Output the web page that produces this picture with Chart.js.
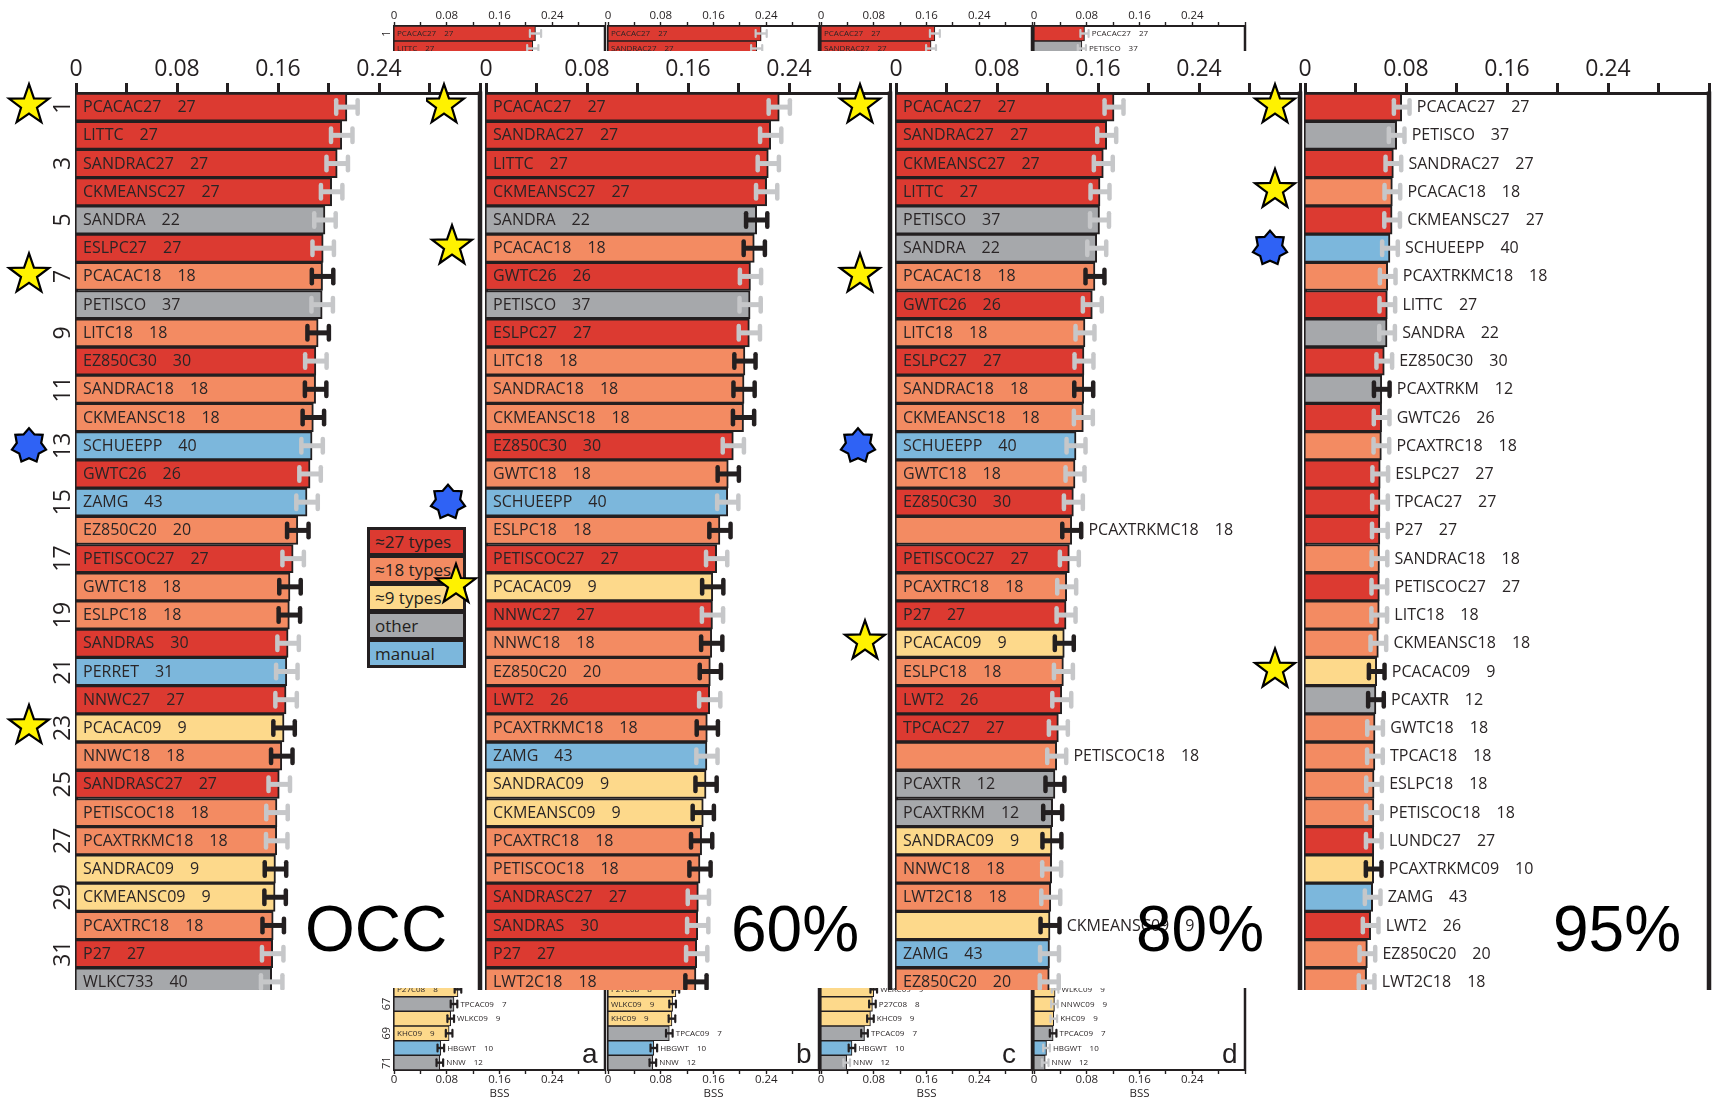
<!DOCTYPE html>
<html>
<head>
<meta charset="utf-8">
<script src="https://cdn.jsdelivr.net/npm/chart.js@4.4.1/dist/chart.umd.min.js"></script>
<style>
    html, body { margin: 0; padding: 0; background: #fff; width: 1712px; height: 1101px; overflow: hidden; }
    canvas { position: absolute; }
    #bottom-inset { position: absolute; left: 0; top: 988px; width: 1712px; height: 113px; overflow: hidden; }
    #main { position: absolute; left: 0; top: 0; width: 1712px; height: 990px; overflow: hidden; }
    #top-inset { position: absolute; left: 0; top: 0; width: 1712px; height: 51px; overflow: hidden; }
    #legend { position: absolute; left: 367px; top: 527px; width: 93px; padding: 3px; background: #231f20; }
    #legend div { height: 23px; line-height: 23px; margin-bottom: 5px; padding-left: 5px; font: 17px 'Open Sans', sans-serif; color: #231f20; white-space: nowrap; }
    #legend div:last-child { margin-bottom: 0; }
    .big { position: absolute; top: 897px; font: 64px 'Liberation Sans', Arial, sans-serif; line-height: 1; color: #000; }
    .letter { position: absolute; top: 1040px; font: 28px 'Liberation Sans', Arial, sans-serif; line-height: 1; color: #231f20; }
</style>
</head>
<body>
<div id="bottom-inset"></div>
<div id="legend"></div>
<div id="main"></div>
<div id="top-inset"></div>
<div id="titles"></div>

<script>
// ---------- data ----------
const methodNames = ['PCACAC27', 'LITTC', 'SANDRAC27', 'CKMEANSC27', 'SANDRA', 'ESLPC27', 'PCACAC18', 'PETISCO',
    'LITC18', 'EZ850C30', 'SANDRAC18', 'CKMEANSC18', 'SCHUEEPP', 'GWTC26', 'ZAMG', 'EZ850C20', 'PETISCOC27',
    'GWTC18', 'ESLPC18', 'SANDRAS', 'PERRET', 'NNWC27', 'PCACAC09', 'NNWC18', 'SANDRASC27', 'PETISCOC18',
    'PCAXTRKMC18', 'SANDRAC09', 'CKMEANSC09', 'PCAXTRC18', 'P27', 'WLKC733', 'LWT2', 'LWT2C18', 'PCAXTR',
    'PCAXTRKM', 'TPCAC27', 'TPCAC18', 'LUNDC27', 'PCAXTRKMC09', 'TPCAC09', 'WLKC09', 'KHC09', 'HBGWT', 'NNW',
    'P27C08', 'NNWC09'];
const methodTypes = [27, 27, 27, 27, 22, 27, 18, 37, 18, 30, 18, 18, 40, 26, 43, 20, 27, 18, 18, 30, 31, 27, 9, 18,
    27, 18, 18, 9, 9, 18, 27, 40, 26, 18, 12, 12, 27, 18, 27, 10, 7, 9, 9, 10, 12, 8, 9];
// r = ~27 types, o = ~18 types, y = ~9 types, g = other, b = manual
const methodGroups = ['r', 'r', 'r', 'r', 'g', 'r', 'o', 'g', 'o', 'r', 'o', 'o', 'b', 'r', 'b', 'o', 'r', 'o', 'o',
    'r', 'b', 'r', 'y', 'o', 'r', 'o', 'o', 'y', 'y', 'o', 'r', 'g', 'r', 'o', 'g', 'g', 'r', 'o', 'r', 'y', 'g',
    'y', 'y', 'b', 'g', 'y', 'y'];

const mainRows = ['1', '2', '3', '4', '5', '6', '7', '8', '9', '10', '11', '12', '13', '14', '15', '16', '17', '18',
    '19', '20', '21', '22', '23', '24', '25', '26', '27', '28', '29', '30', '31', '32'];
const xTicks = ['0', '', '0.08', '', '0.16', '', '0.24', '', ''];

// OCC
const occNames = ['PCACAC27', 'LITTC', 'SANDRAC27', 'CKMEANSC27', 'SANDRA', 'ESLPC27', 'PCACAC18', 'PETISCO',
    'LITC18', 'EZ850C30', 'SANDRAC18', 'CKMEANSC18', 'SCHUEEPP', 'GWTC26', 'ZAMG', 'EZ850C20', 'PETISCOC27',
    'GWTC18', 'ESLPC18', 'SANDRAS', 'PERRET', 'NNWC27', 'PCACAC09', 'NNWC18', 'SANDRASC27', 'PETISCOC18',
    'PCAXTRKMC18', 'SANDRAC09', 'CKMEANSC09', 'PCAXTRC18', 'P27', 'WLKC733'];
const occValues = [0.2146, 0.2105, 0.2069, 0.2025, 0.1972, 0.1958, 0.1953, 0.1950, 0.1918, 0.1900, 0.1898, 0.1880,
    0.1870, 0.1854, 0.1830, 0.1757, 0.1720, 0.1695, 0.1690, 0.1680, 0.1670, 0.1664, 0.1648, 0.1630, 0.1610,
    0.1592, 0.1590, 0.1580, 0.1577, 0.1562, 0.1558, 0.1550];
const occBlack = [7, 9, 11, 12, 16, 18, 19, 23, 24, 28, 29, 30];
const occOutside = [];
const occYellow = [1, 7, 23];
const occBlue = [13];
const occErr = 0.0085;

// 60%
const p60Names = ['PCACAC27', 'SANDRAC27', 'LITTC', 'CKMEANSC27', 'SANDRA', 'PCACAC18', 'GWTC26', 'PETISCO',
    'ESLPC27', 'LITC18', 'SANDRAC18', 'CKMEANSC18', 'EZ850C30', 'GWTC18', 'SCHUEEPP', 'ESLPC18', 'PETISCOC27',
    'PCACAC09', 'NNWC27', 'NNWC18', 'EZ850C20', 'LWT2', 'PCAXTRKMC18', 'ZAMG', 'SANDRAC09', 'CKMEANSC09',
    'PCAXTRC18', 'PETISCOC18', 'SANDRASC27', 'SANDRAS', 'P27', 'LWT2C18'];
const p60Values = [0.2323, 0.2255, 0.2236, 0.2223, 0.2144, 0.2125, 0.2095, 0.2092, 0.2086, 0.2051, 0.2044, 0.2040,
    0.1959, 0.1919, 0.1915, 0.1853, 0.1827, 0.1796, 0.1794, 0.1788, 0.1777, 0.1772, 0.1753, 0.1750, 0.1743,
    0.1721, 0.1708, 0.1695, 0.1682, 0.1677, 0.1669, 0.1663];
const p60Black = [5, 6, 10, 11, 12, 14, 16, 18, 20, 21, 23, 25, 26, 27, 28, 32];
const p60Outside = [];
const p60Yellow = [1, 6, 18];
const p60Blue = [15];
const p60Err = 0.0084;

// 80%
const p80Names = ['PCACAC27', 'SANDRAC27', 'CKMEANSC27', 'LITTC', 'PETISCO', 'SANDRA', 'PCACAC18', 'GWTC26',
    'LITC18', 'ESLPC27', 'SANDRAC18', 'CKMEANSC18', 'SCHUEEPP', 'GWTC18', 'EZ850C30', 'PCAXTRKMC18',
    'PETISCOC27', 'PCAXTRC18', 'P27', 'PCACAC09', 'ESLPC18', 'LWT2', 'TPCAC27', 'PETISCOC18', 'PCAXTR',
    'PCAXTRKM', 'SANDRAC09', 'NNWC18', 'LWT2C18', 'CKMEANSC09', 'ZAMG', 'EZ850C20'];
const p80Values = [0.1727, 0.1669, 0.1642, 0.1616, 0.1612, 0.1590, 0.1576, 0.1555, 0.1497, 0.1489, 0.1487, 0.1484,
    0.1426, 0.1418, 0.1405, 0.1392, 0.1373, 0.1352, 0.1347, 0.1333, 0.1326, 0.1313, 0.1286, 0.1273, 0.1259,
    0.1241, 0.1235, 0.1233, 0.1226, 0.1220, 0.1216, 0.1214];
const p80Black = [7, 11, 16, 20, 25, 26, 27, 30];
const p80Outside = [16, 24, 30];
const p80Yellow = [1, 7, 20];
const p80Blue = [13];
const p80Err = 0.0075;

// 95%
const p95Names = ['PCACAC27', 'PETISCO', 'SANDRAC27', 'PCACAC18', 'CKMEANSC27', 'SCHUEEPP', 'PCAXTRKMC18', 'LITTC',
    'SANDRA', 'EZ850C30', 'PCAXTRKM', 'GWTC26', 'PCAXTRC18', 'ESLPC27', 'TPCAC27', 'P27', 'SANDRAC18',
    'PETISCOC27', 'LITC18', 'CKMEANSC18', 'PCACAC09', 'PCAXTR', 'GWTC18', 'TPCAC18', 'ESLPC18', 'PETISCOC18',
    'LUNDC27', 'PCAXTRKMC09', 'ZAMG', 'LWT2', 'EZ850C20', 'LWT2C18'];
const p95Values = [0.0766, 0.0726, 0.0700, 0.0692, 0.0690, 0.0673, 0.0655, 0.0652, 0.0650, 0.0628, 0.0608, 0.0607,
    0.0605, 0.0596, 0.0594, 0.0593, 0.0590, 0.0589, 0.0588, 0.0581, 0.0568, 0.0562, 0.0555, 0.0554, 0.0547,
    0.0546, 0.0545, 0.0544, 0.0536, 0.0520, 0.0494, 0.0488];
const p95Black = [11, 21, 22, 28];
const p95Outside = mainRows.map(Number);
const p95Yellow = [1, 4, 21];
const p95Blue = [6];
const p95Err = 0.0062;

// bottom inset (rows 66-71)
const bottomRows = ['66', '67', '68', '69', '70', '71'];
const botANames = ['P27C08', 'TPCAC09', 'WLKC09', 'KHC09', 'HBGWT', 'NNW'];
const botAValues = [0.097, 0.091, 0.086, 0.0836, 0.071, 0.0695];
const botABlack = [66, 67, 68, 69, 70, 71];
const botAOutside = [67, 68, 70, 71];
const botBNames = ['P27C08', 'WLKC09', 'KHC09', 'TPCAC09', 'HBGWT', 'NNW'];
const botBValues = [0.103, 0.098, 0.097, 0.093, 0.0695, 0.068];
const botBBlack = [66, 67, 68, 69, 70, 71];
const botBOutside = [69, 70, 71];
const botCNames = ['WLKC09', 'P27C08', 'KHC09', 'TPCAC09', 'HBGWT', 'NNW'];
const botCValues = [0.080, 0.078, 0.075, 0.066, 0.047, 0.039];
const botCBlack = [66, 67, 68, 69, 70];
const botCOutside = [66, 67, 68, 69, 70, 71];
const botDNames = ['WLKC09', 'NNWC09', 'KHC09', 'TPCAC09', 'HBGWT', 'NNW'];
const botDValues = [0.032, 0.031, 0.030, 0.029, 0.019, 0.017];
const botDBlack = [69];
const botDOutside = [66, 67, 68, 69, 70, 71];
const botErr = 0.005;

const legendLabels = ['≈27 types', '≈18 types', '≈9 types', 'other', 'manual'];
const legendGroups = ['r', 'o', 'y', 'g', 'b'];
const panelTitles = ['OCC', '60%', '80%', '95%'];
const panelLetters = ['a', 'b', 'c', 'd'];

// ---------- styles / placement ----------
const FONT = "'Open Sans', 'Noto Sans', sans-serif";
const DARK = '#231f20';
const TEXT = '#2a2526';
const ERR_GRAY = '#c6c7c9';
const FILL = { r: '#dc3a31', o: '#f38b62', y: '#fdd98b', g: '#a6a8ab', b: '#7cb7dc' };

const BIG = { tickFont: 23, tickPad: 0, tickLen: 10, tickW: 3, axisW: 3, borderW: 2, labelFont: 16, numGap: 16,
    labelPad: 7, outGap: 5, errLine: 5, capW: 4.5, capH: 18, frameW: 4.5, rowFont: 23, rowDx: -13 };
const SMALL = { tickFont: 11.5, tickPad: -1, tickLen: 4, tickW: 1.4, axisW: 2, borderW: 1.1, labelFont: 8, numGap: 8,
    labelPad: 3, outGap: 2, errLine: 2.4, capW: 2.2, capH: 9, frameW: 2.5, rowFont: 11, rowDx: -7 };

const mainZero = [76, 486, 896, 1305];
const miniZero = [394, 608, 821, 1034];
const titleLeft = [305, 731, 1136, 1553];
const letterLeft = [582, 796, 1002, 1222];
// horizontal offsets of the stars from each panel's zero line
const yellowDx = [[-47, -47, -47], [-42, -34, -30], [-36, -36, -31], [-30, -30, -30]];
const blueDx = [[-47], [-38], [-38], [-35]];

const methodInfo = {};
methodNames.forEach((m, i) => { methodInfo[m] = { types: methodTypes[i], group: methodGroups[i] }; });

const drawStar = (ctx, cx, cy, n, R, r, color) => {
    ctx.beginPath();
    for (let k = 0; k < 2 * n; k++) {
        const a = -Math.PI / 2 + k * Math.PI / n;
        const rad = k % 2 === 0 ? R : r;
        ctx.lineTo(cx + rad * Math.cos(a), cy + rad * Math.sin(a));
    }
    ctx.closePath();
    ctx.fillStyle = color;
    ctx.fill();
    ctx.lineWidth = 2.2;
    ctx.strokeStyle = '#000';
    ctx.lineJoin = 'miter';
    ctx.stroke();
};

const makePanel = (p) => {
    const s = p.style;
    const canvas = document.createElement('canvas');
    canvas.width = p.width;
    canvas.height = p.height;
    canvas.style.left = p.left + 'px';
    canvas.style.top = p.top + 'px';
    document.getElementById(p.parent).appendChild(canvas);

    const info = p.names.map(n => methodInfo[n]);

    const decor = {
        id: 'decor',
        afterDraw(chart) {
            const ctx = chart.ctx;
            const ca = chart.chartArea;
            const xs = chart.scales.x;
            const ys = chart.scales.y;
            ctx.save();

            // right frame of the panel
            ctx.strokeStyle = DARK;
            ctx.lineWidth = s.frameW;
            ctx.beginPath();
            ctx.moveTo(ca.right, p.xPos === 'top' ? ca.top - s.axisW / 2 : ca.top);
            ctx.lineTo(ca.right, p.xPos === 'bottom' ? ca.bottom + s.axisW / 2 : ca.bottom);
            ctx.stroke();

            // error bars + labels
            p.values.forEach((v, i) => {
                const row = Number(p.rows[i]);
                const yc = ys.getPixelForValue(i);
                const lo = xs.getPixelForValue(v - p.err);
                const hi = xs.getPixelForValue(v + p.err);
                const c = p.black.includes(row) ? DARK : ERR_GRAY;
                ctx.strokeStyle = c;
                ctx.fillStyle = c;
                ctx.lineWidth = s.errLine;
                ctx.beginPath();
                ctx.moveTo(lo, yc);
                ctx.lineTo(hi, yc);
                ctx.stroke();
                [lo, hi].forEach(px => {
                    ctx.beginPath();
                    ctx.roundRect(px - s.capW / 2, yc - s.capH / 2, s.capW, s.capH, s.capW / 2);
                    ctx.fill();
                });

                const outside = p.outside.includes(row);
                const x0 = outside ? hi + s.capW / 2 + s.outGap : xs.getPixelForValue(0) + s.labelPad;
                ctx.fillStyle = TEXT;
                ctx.font = `${s.labelFont}px ${FONT}`;
                ctx.textAlign = 'left';
                ctx.textBaseline = 'middle';
                ctx.fillText(p.names[i], x0, yc + 0.5);
                ctx.fillText(String(info[i].types), x0 + ctx.measureText(p.names[i]).width + s.numGap, yc + 0.5);
            });

            // rotated row numbers
            if (p.rowLabels) {
                ctx.fillStyle = DARK;
                ctx.font = `${s.rowFont}px ${FONT}`;
                ctx.textAlign = 'center';
                ctx.textBaseline = 'middle';
                ys.getLabels().forEach((lab, i) => {
                    if (Number(lab) % 2 !== 1) return;
                    ctx.save();
                    ctx.translate(ca.left + s.rowDx, ys.getPixelForValue(i));
                    ctx.rotate(-Math.PI / 2);
                    ctx.fillText(lab, 0, 0);
                    ctx.restore();
                });
            }

            // stars
            (p.yellow || []).forEach((r, j) => {
                drawStar(ctx, ca.left + p.yellowDx[j], ys.getPixelForValue(p.rows.indexOf(String(r))) - 2, 5, 21, 8.4, '#fff200');
            });
            (p.blue || []).forEach((r, j) => {
                drawStar(ctx, ca.left + p.blueDx[j], ys.getPixelForValue(p.rows.indexOf(String(r))), 7, 17.5, 12.5, '#2f62f5');
            });
            ctx.restore();
        }
    };

    new Chart(canvas, {
        type: 'bar',
        data: {
            labels: p.rows,
            datasets: [{
                data: p.values,
                backgroundColor: info.map(m => FILL[m.group]),
                borderColor: DARK,
                borderWidth: s.borderW,
                borderSkipped: 'start',
                barPercentage: 1,
                categoryPercentage: 1
            }]
        },
        options: {
            indexAxis: 'y',
            responsive: false,
            animation: false,
            devicePixelRatio: 1,
            layout: { padding: { left: 0, right: p.padRight, top: 0, bottom: 0 } },
            plugins: { legend: { display: false }, tooltip: { enabled: false } },
            scales: {
                x: {
                    type: 'linear',
                    position: p.xPos,
                    min: 0,
                    max: 0.32,
                    afterFit: (scale) => { scale.height = p.axisH; },
                    ticks: {
                        stepSize: 0.04,
                        autoSkip: false,
                        maxRotation: 0,
                        minRotation: 0,
                        padding: s.tickPad,
                        color: DARK,
                        font: { family: FONT, size: s.tickFont },
                        callback: (v, i) => xTicks[i] || ''
                    },
                    grid: { drawOnChartArea: false, drawTicks: true, tickLength: s.tickLen, tickWidth: s.tickW, tickColor: DARK },
                    border: { display: true, color: DARK, width: s.axisW },
                    title: {
                        display: !!p.xTitle,
                        text: p.xTitle || '',
                        color: DARK,
                        font: { family: FONT, size: s.tickFont },
                        padding: 0
                    }
                },
                y: {
                    type: 'category',
                    z: 1,
                    afterFit: (scale) => { scale.width = p.lead; },
                    ticks: { display: false },
                    grid: { display: false, drawTicks: false },
                    border: { display: true, color: DARK, width: s.axisW }
                }
            }
        },
        plugins: [decor]
    });
};

// ---------- main panels ----------
const mainSets = [
    [occNames, occValues, occBlack, occOutside, occYellow, occBlue, occErr],
    [p60Names, p60Values, p60Black, p60Outside, p60Yellow, p60Blue, p60Err],
    [p80Names, p80Values, p80Black, p80Outside, p80Yellow, p80Blue, p80Err],
    [p95Names, p95Values, p95Black, p95Outside, p95Yellow, p95Blue, p95Err]
];
mainSets.forEach(([names, values, black, outside, yellow, blue, err], k) => {
    const lead = k === 0 ? 76 : 60;
    makePanel({
        parent: 'main', style: BIG, left: mainZero[k] - lead, top: 0, lead,
        width: lead + 404 + 3, height: 996, padRight: 3, axisH: 93, xPos: 'top',
        rows: mainRows, names, values, black, outside, err, yellow, blue,
        yellowDx: yellowDx[k], blueDx: blueDx[k], rowLabels: k === 0
    });
});

// ---------- top inset (first rows of each panel, small copy) ----------
mainSets.forEach(([names, values, black, outside, , , err], k) => {
    makePanel({
        parent: 'top-inset', style: SMALL, left: miniZero[k] - 20, top: 0, lead: 20,
        width: 20 + 211 + 2, height: 71, padRight: 2, axisH: 26, xPos: 'top',
        rows: mainRows.slice(0, 3), names: names.slice(0, 3), values: values.slice(0, 3),
        black, outside, err, rowLabels: k === 0
    });
});

// ---------- bottom inset (rows 66-71), its top row cut by the main panels ----------
const bottomSets = [
    [botANames, botAValues, botABlack, botAOutside],
    [botBNames, botBValues, botBBlack, botBOutside],
    [botCNames, botCValues, botCBlack, botCOutside],
    [botDNames, botDValues, botDBlack, botDOutside]
];
bottomSets.forEach(([names, values, black, outside], k) => {
    makePanel({
        parent: 'bottom-inset', style: SMALL, left: miniZero[k] - 20, top: -6, lead: 20,
        width: 20 + 211 + 2, height: 119, padRight: 2, axisH: 31, xPos: 'bottom', xTitle: 'BSS',
        rows: bottomRows, names, values, black, outside, err: botErr, rowLabels: k === 0
    });
});

// ---------- legend + panel titles ----------
const legendEl = document.getElementById('legend');
legendLabels.forEach((lab, i) => {
    const d = document.createElement('div');
    d.textContent = lab;
    d.style.background = FILL[legendGroups[i]];
    legendEl.appendChild(d);
});

const titlesEl = document.getElementById('titles');
panelTitles.forEach((t, i) => {
    const d = document.createElement('div');
    d.className = 'big';
    d.textContent = t;
    d.style.left = titleLeft[i] + 'px';
    titlesEl.appendChild(d);
});
panelLetters.forEach((t, i) => {
    const d = document.createElement('div');
    d.className = 'letter';
    d.textContent = t;
    d.style.left = letterLeft[i] + 'px';
    titlesEl.appendChild(d);
});
</script>
</body>
</html>
